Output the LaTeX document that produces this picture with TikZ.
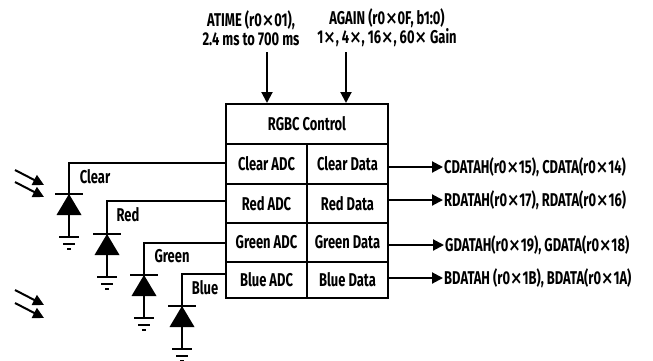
\documentclass[tikz,border=0pt]{standalone}
\usepackage{fontspec}
\setmainfont{Fira Sans}[FakeStretch=0.7]
\newfontfamily\symfont{DejaVu Sans}[FakeStretch=0.8]
\usetikzlibrary{arrows.meta}
\newcommand{\tms}{{\symfont ×}}
\tikzset{
  lbl/.style={font=\bfseries\fontsize{18.5pt}{19pt}\selectfont, inner sep=1pt},
  cell/.style={draw, line width=2pt, lbl, minimum width=81pt, minimum height=39pt, inner sep=0pt},
  wire/.style={line width=2pt},
  arr/.style={wire, -{Triangle[length=11pt,width=11pt]}},
  pics/photodiode/.style={code={
    \draw[wire] (-14,0) -- (14,0);
    \fill (0,0) -- (-12.5,21) -- (12.5,21) -- cycle;
    \draw[wire] (0,0) -- (0,43);
    \draw[wire] (-10,43) -- (10,43);
    \draw[wire] (-6,49.5) -- (6,49.5);
    \draw[wire] (-2,55) -- (2,55);
  }}
}
\begin{document}
\begin{tikzpicture}[x=1pt,y=-1pt]
\useasboundingbox (0,0) rectangle (653,360);
% control block
\node[cell, minimum width=162pt, minimum height=40pt] (ctrl) at (307,124) {RGBC Control};
\node[cell, minimum height=40pt] (cadc) at (266.5,164) {Clear ADC};
\node[cell, minimum height=40pt] (cdat) at (347.5,164) {Clear Data};
\node[cell] (radc) at (266.5,203.5) {Red ADC};
\node[cell] (rdat) at (347.5,203.5) {Red Data};
\node[cell] (gadc) at (266.5,242.5) {Green ADC};
\node[cell] (gdat) at (347.5,242.5) {Green Data};
\node[cell, minimum height=36pt] (badc) at (266.5,280) {Blue ADC};
\node[cell, minimum height=36pt] (bdat) at (347.5,280) {Blue Data};
% inputs on top
\node[lbl, align=center] (atime) at (251,28) {ATIME (r0\tms01),\\2.4 ms to 700 ms};
\node[lbl, align=center] (again) at (387,28) {AGAIN (r0\tms0F, b1:0)\\1\tms, 4\tms, 16\tms, 60\tms\ Gain};
\coordinate (ta) at (267,52);
\coordinate (tg) at (346,52);
\draw[arr] (ta) -- (ta |- ctrl.north);
\draw[arr] (tg) -- (tg |- ctrl.north);
% data outputs
\node[lbl, anchor=west] (clbl) at (443,167) {CDATAH(r0\tms15), CDATA(r0\tms14)};
\node[lbl, anchor=west] (rlbl) at (443,200) {RDATAH(r0\tms17), RDATA(r0\tms16)};
\node[lbl, anchor=west] (glbl) at (444,245) {GDATAH(r0\tms19), GDATA(r0\tms18)};
\node[lbl, anchor=west] (blbl) at (443,278) {BDATAH (r0\tms1B), BDATA(r0\tms1A)};
\draw[arr] (cdat.east |- clbl) -- (clbl.west);
\draw[arr] (rdat.east |- rlbl) -- (rlbl.west);
\draw[arr] (gdat.east |- glbl) -- (glbl.west);
\draw[arr] (bdat.east |- blbl) -- (blbl.west);
% photodiodes
\coordinate (dc) at (69,163);
\coordinate (dr) at (107,201);
\coordinate (dg) at (144,243);
\coordinate (db) at (182,274);
\draw[wire] (cadc.west |- dc) -- (dc) -- ++(0,31);
\draw[wire] (radc.west |- dr) -- (dr) -- ++(0,33);
\draw[wire] (gadc.west |- dg) -- (dg) -- ++(0,32);
\draw[wire] (badc.west |- db) -- (db) -- ++(0,32);
\pic at (69,194) {photodiode};
\pic at (107,234) {photodiode};
\pic at (144,275) {photodiode};
\pic at (182,306) {photodiode};
\node[lbl] (clrlbl) at (95,177) {Clear};
\node[lbl] (redlbl) at (128,215) {Red};
\node[lbl] (grnlbl) at (172,256) {Green};
\node[lbl] (blulbl) at (205,288) {Blue};
% incoming light
\draw[arr] (15,170) -- (44,185);
\draw[arr] (15,182) -- (44,197);
\draw[arr] (15,290) -- (44,305);
\draw[arr] (15,303) -- (44,318);
\end{tikzpicture}
\end{document}
